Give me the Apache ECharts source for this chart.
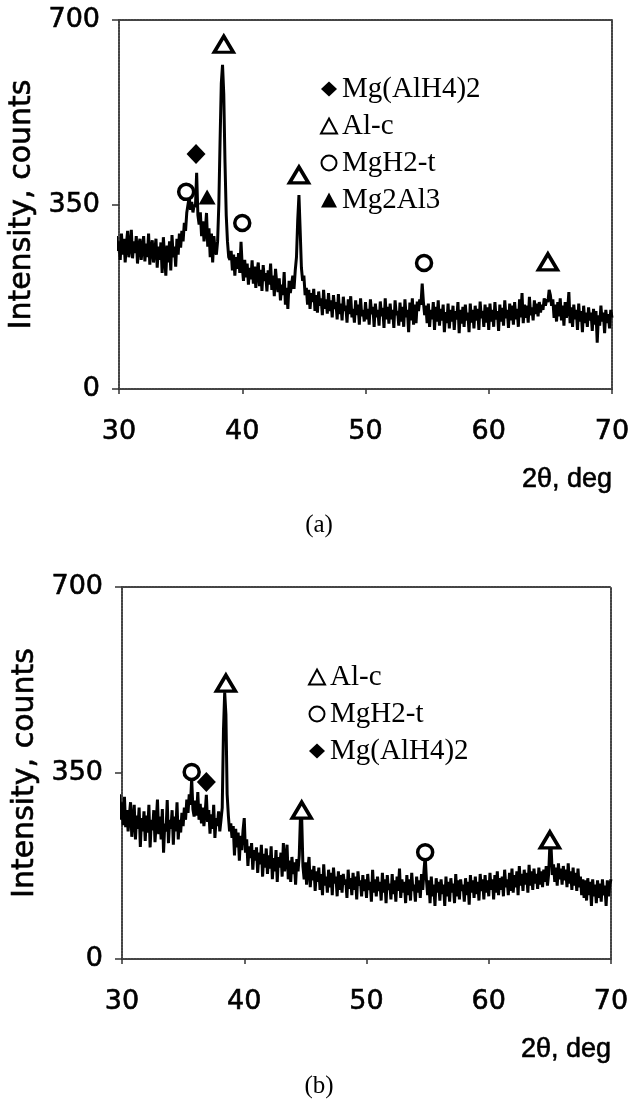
<!DOCTYPE html>
<html>
<head>
<meta charset="utf-8">
<script src="https://cdn.jsdelivr.net/npm/echarts@6/dist/echarts.min.js"></script>
<style>
  html, body { margin: 0; padding: 0; background: #fff; }
  #chart { width: 638px; height: 1106px; }
</style>
</head>
<body>
<div id="chart"></div>
<script>
// XRD patterns, 2θ sampled every 0.1° starting at 29.3°
const angleStart = 29.3;
const angleStep = 0.1;

// panel (a) intensity, one row per degree
const intensityA = [
  295, 340, 255, 300, 250, 290, 262,                  // 29.3-29.9
  280, 245, 295, 255, 285, 240, 275, 300, 250, 270,   // 30
  302, 248, 280, 258, 290, 238, 272, 285, 245, 268,   // 31
  290, 242, 276, 250, 295, 236, 268, 282, 240, 262,   // 32
  285, 230, 270, 245, 278, 220, 288, 250, 215, 272,   // 33
  240, 280, 225, 292, 250, 270, 232, 285, 255, 295,   // 34
  268, 300, 280, 315, 300, 335, 350, 365, 340, 355,   // 35
  335, 350, 345, 410, 330, 312, 335, 290, 318, 280,   // 36
  300, 334, 270, 305, 250, 295, 240, 290, 262, 255,   // 37
  280, 350, 470, 580, 615, 560, 430, 330, 280, 250,   // 38
  245, 262, 225, 255, 215, 250, 228, 258, 220, 279,   // 39
  232, 205, 245, 212, 238, 198, 230, 208, 244, 200,   // 40
  232, 192, 222, 240, 195, 226, 186, 235, 205, 220,   // 41
  185, 225, 198, 238, 188, 215, 176, 228, 200, 184,   // 42
  210, 168, 198, 178, 222, 160, 192, 152, 205, 182,   // 43
  198, 215, 190, 225, 250, 320, 368, 300, 230, 205,   // 44
  215, 178, 192, 160, 188, 152, 182, 165, 190, 148,   // 45
  178, 145, 185, 158, 172, 140, 188, 152, 170, 143,   // 46
  182, 148, 168, 136, 178, 152, 165, 132, 180, 142,   // 47
  162, 130, 175, 148, 158, 126, 170, 142, 176, 136,   // 48
  152, 126, 168, 140, 160, 122, 172, 138, 150, 128,   // 49
  165, 132, 152, 122, 170, 142, 156, 118, 162, 136,   // 50
  150, 120, 166, 138, 154, 116, 172, 132, 156, 124,   // 51
  162, 132, 150, 116, 168, 140, 148, 120, 164, 128,   // 52
  156, 118, 170, 136, 150, 108, 164, 130, 172, 122,   // 53
  160, 125, 166, 148, 170, 160, 200, 165, 140, 158,   // 54
  125, 162, 118, 150, 132, 165, 112, 156, 128, 168,   // 55
  120, 152, 130, 160, 108, 146, 125, 162, 115, 150,   // 56
  128, 158, 112, 148, 132, 165, 106, 150, 124, 156,   // 57
  118, 160, 130, 145, 108, 162, 126, 150, 115, 158,   // 58
  130, 152, 112, 166, 134, 148, 118, 160, 126, 155,   // 59
  112, 162, 128, 150, 118, 165, 132, 148, 110, 160,   // 60
  128, 154, 120, 168, 134, 150, 116, 162, 130, 158,   // 61
  122, 165, 132, 152, 118, 170, 136, 182, 125, 160,   // 62
  135, 158, 126, 175, 140, 155, 130, 168, 142, 162,   // 63
  138, 165, 145, 160, 150, 172, 158, 170, 165, 188,   // 64
  178, 158, 170, 135, 160, 128, 165, 138, 172, 130,   // 65
  158, 120, 165, 135, 150, 184, 125, 155, 118, 160,   // 66
  132, 150, 112, 162, 128, 148, 108, 158, 125, 145,   // 67
  118, 155, 130, 145, 110, 152, 122, 148, 88, 140,    // 68
  120, 158, 128, 145, 106, 150, 125, 142, 115, 150,   // 69
  135                                                 // 70
];

// panel (b) intensity
const intensityB = [
  300, 350, 268, 322, 275, 310, 262,                  // 29.3-29.9
  295, 252, 305, 248, 280, 240, 270, 295, 230, 262,   // 30
  290, 225, 270, 245, 285, 211, 265, 240, 278, 222,   // 31
  270, 238, 290, 210, 262, 242, 280, 220, 258, 300,   // 32
  235, 268, 225, 282, 200, 255, 240, 299, 218, 262,   // 33
  245, 280, 215, 268, 240, 295, 225, 262, 238, 275,   // 34
  250, 285, 262, 300, 275, 310, 290, 340, 282, 268,   // 35
  298, 270, 314, 262, 292, 255, 285, 250, 275, 309,   // 36
  258, 280, 236, 272, 245, 290, 228, 265, 250, 278,   // 37
  240, 262, 285, 430, 502, 460, 310, 270, 240, 255,   // 38
  228, 250, 195, 245, 210, 238, 185, 232, 205, 242,   // 39
  265, 200, 225, 175, 212, 190, 218, 168, 205, 185,   // 40
  210, 162, 200, 178, 215, 155, 198, 172, 208, 160,   // 41
  195, 170, 212, 150, 190, 165, 205, 145, 192, 172,   // 42
  200, 155, 218, 165, 188, 215, 150, 185, 145, 192,   // 43
  160, 182, 140, 188, 165, 195, 270, 265, 175, 150,   // 44
  182, 140, 170, 192, 135, 168, 148, 175, 128, 165,   // 45
  145, 172, 130, 160, 120, 178, 138, 155, 125, 168,   // 46
  135, 162, 120, 172, 142, 155, 118, 165, 130, 158,   // 47
  125, 160, 140, 150, 115, 168, 132, 152, 120, 162,   // 48
  130, 155, 112, 165, 138, 148, 118, 158, 128, 150,   // 49
  115, 160, 130, 145, 108, 168, 125, 150, 118, 155,   // 50
  128, 145, 110, 162, 125, 150, 105, 158, 130, 142,   // 51
  112, 160, 122, 148, 108, 155, 128, 170, 115, 150,   // 52
  125, 145, 105, 158, 120, 150, 110, 162, 128, 140,   // 53
  108, 155, 125, 148, 115, 160, 130, 165, 195, 150,   // 54
  120, 148, 105, 155, 118, 140, 100, 152, 125, 145,   // 55
  110, 150, 122, 140, 100, 155, 118, 145, 108, 152,   // 56
  125, 142, 105, 160, 118, 148, 112, 150, 128, 140,   // 57
  108, 152, 120, 145, 102, 158, 125, 148, 115, 155,   // 58
  122, 145, 110, 160, 128, 150, 112, 158, 125, 148,   // 59
  118, 162, 130, 150, 112, 158, 125, 165, 120, 152,   // 60
  130, 155, 118, 168, 135, 150, 120, 162, 128, 170,   // 61
  125, 158, 135, 165, 120, 175, 138, 160, 128, 168,   // 62
  140, 162, 125, 177, 138, 165, 130, 170, 142, 160,   // 63
  132, 172, 140, 165, 135, 168, 145, 175, 138, 160,   // 64
  215, 210, 158, 178, 145, 172, 138, 180, 150, 170,   // 65
  140, 175, 148, 168, 135, 180, 142, 165, 130, 172,   // 66
  138, 162, 128, 170, 135, 155, 120, 150, 115, 148,   // 67
  110, 152, 120, 145, 100, 150, 118, 140, 105, 148,   // 68
  115, 142, 108, 150, 120, 138, 100, 148, 118, 140,   // 69
  150                                                 // 70
];

// phase markers [2θ, counts]
const mgAlH4A = [[36.25, 446]];
const alcA = [[38.5, 654], [44.6, 406], [64.8, 241]];
const mgh2A = [[35.45, 374], [40.0, 315], [54.75, 239]];
const mg2al3A = [[37.15, 364]];

const alcB = [[38.5, 519], [44.7, 280], [65.0, 224]];
const mgh2B = [[35.7, 352], [54.8, 201]];
const mgAlH4B = [[36.9, 333]];

const legendA = ['Mg(AlH4)2', 'Al-c', 'MgH2-t', 'Mg2Al3'];
const legendB = ['Al-c', 'MgH2-t', 'Mg(AlH4)2'];

const xTicks = { min: 30, max: 70, interval: 10 };
const yTicks = { min: 0, max: 700, interval: 350 };

function toPairs(values) {
  return values.map((v, i) => [+(angleStart + i * angleStep).toFixed(1), v]);
}

const sans = 'Liberation Sans, Arial, sans-serif';
const wide = 'DejaVu Sans, sans-serif';
const serif = 'Liberation Serif, Times New Roman, serif';
const frameLine = { show: true, onZero: false, lineStyle: { color: '#444', width: 2, type: [2, 1] } };
const heavy = { textBorderColor: '#000', textBorderWidth: 0.6 };
const tickLabel = { color: '#000', fontFamily: wide, fontSize: 27, ...heavy };

function xAxes(gi) {
  return [{
    gridIndex: gi, type: 'value', ...xTicks,
    axisLine: frameLine,
    axisTick: { show: true, length: 5, lineStyle: { color: '#333', width: 1.5 } },
    axisLabel: { ...tickLabel, margin: 29 },
    splitLine: { show: false },
    name: '2θ, deg', nameLocation: 'end', nameGap: 0, nameMoveOverlap: false,
    nameTextStyle: { color: '#000', fontFamily: sans, fontSize: 27, ...heavy, align: 'right', verticalAlign: 'top', padding: [77, 0, 0, 0] }
  }, {
    gridIndex: gi, type: 'value', position: 'top', ...xTicks,
    axisLine: frameLine, axisTick: { show: false }, axisLabel: { show: false }, splitLine: { show: false }
  }];
}

function yAxes(gi) {
  return [{
    gridIndex: gi, type: 'value', ...yTicks,
    axisLine: frameLine,
    axisTick: { show: true, length: 7, lineStyle: { color: '#333', width: 1.5 } },
    axisLabel: { ...tickLabel, margin: 19 },
    splitLine: { show: false },
    name: 'Intensity, counts', nameLocation: 'middle', nameRotate: 90, nameGap: 82, nameMoveOverlap: false,
    nameTextStyle: { color: '#000', fontFamily: wide, fontSize: 30, ...heavy }
  }, {
    gridIndex: gi, type: 'value', position: 'right', ...yTicks,
    axisLine: frameLine, axisTick: { show: false }, axisLabel: { show: false }, splitLine: { show: false }
  }];
}

function trace(values, gi) {
  return {
    type: 'line', xAxisIndex: gi * 2, yAxisIndex: gi * 2, data: toPairs(values),
    showSymbol: false, clip: false, silent: true, z: 2,
    lineStyle: { color: '#000', width: 3 }
  };
}

const openTri = { symbol: 'triangle', symbolSize: [19, 16], itemStyle: { color: '#fff', borderColor: '#000', borderWidth: 3.5, opacity: 1 } };
const openCirc = { symbol: 'circle', symbolSize: 15, itemStyle: { color: '#fff', borderColor: '#000', borderWidth: 3.5, opacity: 1 } };
const solidDia = { symbol: 'diamond', symbolSize: [19, 20], itemStyle: { color: '#000', opacity: 1 } };
const solidTri = { symbol: 'triangle', symbolSize: [17, 15], itemStyle: { color: '#000', opacity: 1 } };

function marks(name, data, gi, style) {
  return { type: 'scatter', name: name, xAxisIndex: gi * 2, yAxisIndex: gi * 2, data: data, z: 3, silent: true, ...style };
}

const legendBase = {
  orient: 'vertical', itemGap: 7, itemWidth: 16, itemHeight: 15, selectedMode: false,
  itemStyle: { borderWidth: 2 },
  textStyle: { color: '#000', fontFamily: serif, fontSize: 29, lineHeight: 30 }
};

const chart = echarts.init(document.getElementById('chart'));
chart.setOption({
  animation: false,
  backgroundColor: '#fff',
  title: [
    { text: '(a)', left: 'center', top: 508, textStyle: { fontFamily: serif, fontSize: 25, fontWeight: 'normal', color: '#000' } },
    { text: '(b)', left: 'center', top: 1069, textStyle: { fontFamily: serif, fontSize: 25, fontWeight: 'normal', color: '#000' } }
  ],
  legend: [
    { ...legendBase, data: legendA, left: 315, top: 69 },
    { ...legendBase, data: legendB, left: 303, top: 657 }
  ],
  grid: [
    { left: 119, right: 26, top: 20, height: 369, outerBoundsMode: 'none' },
    { left: 122, right: 27, top: 587, height: 372, outerBoundsMode: 'none' }
  ],
  xAxis: [...xAxes(0), ...xAxes(1)],
  yAxis: [...yAxes(0), ...yAxes(1)],
  series: [
    trace(intensityA, 0),
    marks('Mg(AlH4)2', mgAlH4A, 0, solidDia),
    marks('Al-c', alcA, 0, openTri),
    marks('MgH2-t', mgh2A, 0, openCirc),
    marks('Mg2Al3', mg2al3A, 0, solidTri),
    trace(intensityB, 1),
    marks('Al-c', alcB, 1, openTri),
    marks('MgH2-t', mgh2B, 1, openCirc),
    marks('Mg(AlH4)2', mgAlH4B, 1, solidDia)
  ]
});
</script>
</body>
</html>
